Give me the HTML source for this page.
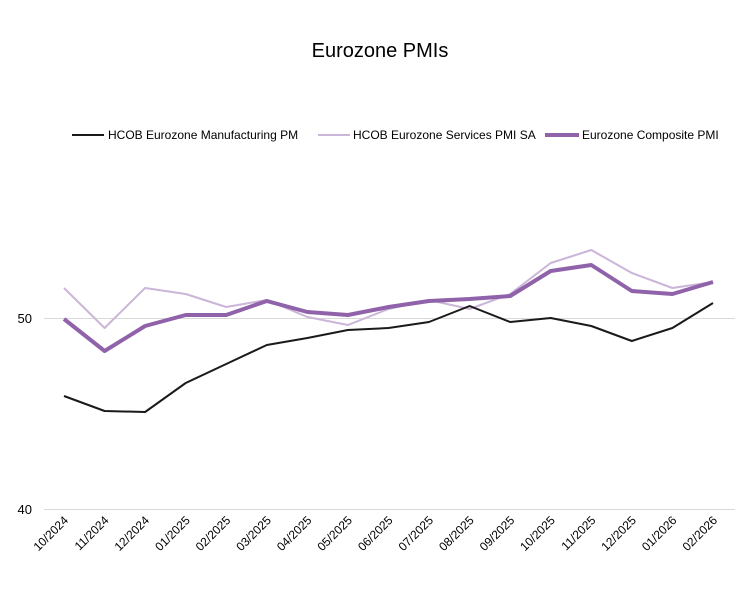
<!DOCTYPE html>
<html><head><meta charset="utf-8"><style>body{margin:0;background:#fff}svg{display:block}</style></head><body>
<svg width="747" height="593" xmlns="http://www.w3.org/2000/svg" font-family="Liberation Sans, sans-serif">
<rect width="747" height="593" fill="#fff"/>
<text x="380" y="57" font-size="20" text-anchor="middle" fill="#000">Eurozone PMIs</text>
<g font-size="12" fill="#000">
<line x1="72" y1="135" x2="104" y2="135" stroke="#1a1a1a" stroke-width="2"/>
<text x="108" y="139">HCOB Eurozone Manufacturing PM</text>
<line x1="318" y1="135" x2="350" y2="135" stroke="#cbb5d8" stroke-width="2"/>
<text x="353" y="139">HCOB Eurozone Services PMI SA</text>
<line x1="545" y1="135" x2="579" y2="135" stroke="#8f62aa" stroke-width="4"/>
<text x="582" y="139">Eurozone Composite PMI</text>
</g>
<line x1="44" y1="318.5" x2="735" y2="318.5" stroke="#d9d9d9"/>
<line x1="44" y1="509.5" x2="735" y2="509.5" stroke="#d9d9d9"/>
<text x="32" y="323" font-size="13" text-anchor="end">50</text>
<text x="32" y="514" font-size="13" text-anchor="end">40</text>
<g font-size="12" text-anchor="end" fill="#000">
<text transform="translate(69,521) rotate(-45)">10/2024</text>
<text transform="translate(109.5,521) rotate(-45)">11/2024</text>
<text transform="translate(150,521) rotate(-45)">12/2024</text>
<text transform="translate(190.7,521) rotate(-45)">01/2025</text>
<text transform="translate(231.2,521) rotate(-45)">02/2025</text>
<text transform="translate(271.8,521) rotate(-45)">03/2025</text>
<text transform="translate(312.4,521) rotate(-45)">04/2025</text>
<text transform="translate(352.9,521) rotate(-45)">05/2025</text>
<text transform="translate(393.5,521) rotate(-45)">06/2025</text>
<text transform="translate(434,521) rotate(-45)">07/2025</text>
<text transform="translate(474.6,521) rotate(-45)">08/2025</text>
<text transform="translate(515.2,521) rotate(-45)">09/2025</text>
<text transform="translate(555.7,521) rotate(-45)">10/2025</text>
<text transform="translate(596.3,521) rotate(-45)">11/2025</text>
<text transform="translate(636.8,521) rotate(-45)">12/2025</text>
<text transform="translate(677.4,521) rotate(-45)">01/2026</text>
<text transform="translate(718,521) rotate(-45)">02/2026</text>
</g>
<polyline fill="none" stroke="#cbb5d8" stroke-width="2" stroke-linejoin="round" points="64,288 104.6,328 145.1,288 185.7,294 226.2,307 266.8,300 307.4,317 347.9,325 388.5,309 429,300 469.6,309 510.2,294 550.7,263 591.3,250 631.8,273 672.4,288 713,282"/>
<polyline fill="none" stroke="#1a1a1a" stroke-width="2" stroke-linejoin="round" points="64,396 104.6,411 145.1,412 185.7,383 226.2,364 266.8,345 307.4,338 347.9,330 388.5,328 429,322 469.6,306 510.2,322 550.7,318 591.3,326 631.8,341 672.4,328 713,303"/>
<polyline fill="none" stroke="#8f62aa" stroke-width="4" stroke-linejoin="round" points="64,319 104.6,351 145.1,326 185.7,315 226.2,315 266.8,301 307.4,312 347.9,315 388.5,307 429,301 469.6,299 510.2,296 550.7,271 591.3,265 631.8,291 672.4,294 713,282"/>
</svg>
</body></html>
